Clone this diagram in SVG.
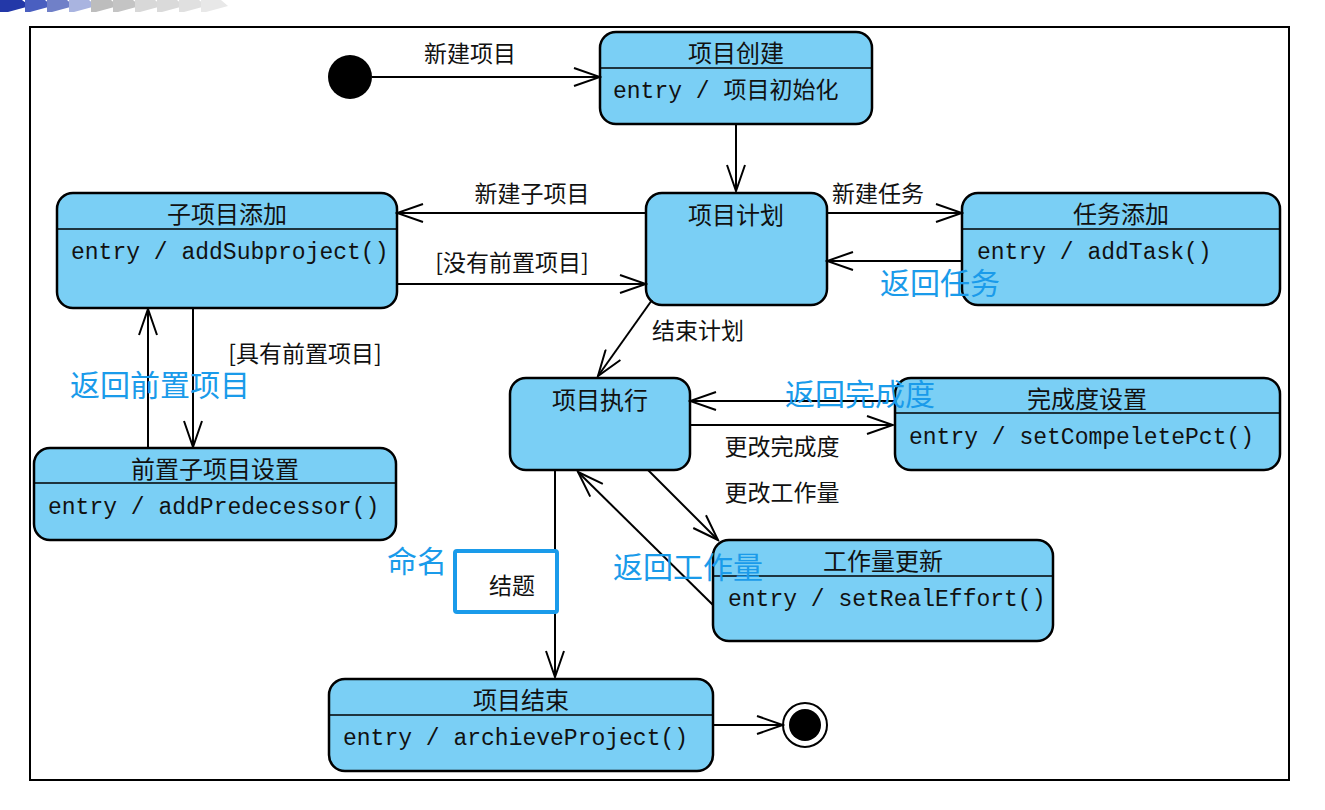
<svg xmlns="http://www.w3.org/2000/svg" width="1325" height="810" viewBox="0 0 1325 810">
<style>
.n{fill:#7ACFF5;stroke:#000;stroke-width:2.5}
.d{stroke:#000;stroke-width:1.5}
.t{font-family:"Noto Sans CJK SC",sans-serif;font-size:24px;fill:#111;text-anchor:middle}
.e{font-family:"Liberation Mono","Noto Sans CJK SC",monospace;font-size:23px;fill:#111}
.l{font-family:"Noto Sans CJK SC",sans-serif;font-size:23px;fill:#111;text-anchor:middle}
.b{font-family:"Noto Sans CJK SC",sans-serif;font-size:30px;fill:#1A9BEA;text-anchor:middle}
.c line{stroke:#000;stroke-width:2;marker-end:url(#a)}
</style>
<defs><marker id="a" markerWidth="30" markerHeight="20" refX="28" refY="10" orient="auto" markerUnits="userSpaceOnUse"><path d="M2,1 L28,10 L2,19" fill="none" stroke="#000" stroke-width="2"/></marker></defs>
<rect width="1325" height="810" fill="#fff"/>
<g>
<polygon points="0,0 22,0 30,6 8,12 0,12" fill="#2338A8"/>
<polygon points="25,0 45,0 52,6 30,12 25,12" fill="#4A5FC0"/>
<polygon points="47,0 67,0 74,6 52,12 47,12" fill="#7080C8"/>
<polygon points="69,0 89,0 96,6 74,12 69,12" fill="#A9B4E0"/>
<polygon points="91,0 111,0 118,6 96,12 91,12" fill="#BDBDBD"/>
<polygon points="113,0 133,0 140,6 118,12 113,12" fill="#C4C4C4"/>
<polygon points="135,0 155,0 162,6 140,12 135,12" fill="#D8D8D8"/>
<polygon points="157,0 177,0 184,6 162,12 157,12" fill="#DADADA"/>
<polygon points="179,0 199,0 206,6 184,12 179,12" fill="#E0E0E0"/>
<polygon points="201,0 221,0 228,6 206,12 201,12" fill="#E8E8E8"/>
</g>
<rect x="30" y="27" width="1259" height="753" fill="none" stroke="#000" stroke-width="2"/>
<g id="init"><circle cx="350" cy="77" r="22" fill="#000"/></g>
<g id="create"><rect class="n" x="600" y="32" width="272" height="92" rx="16"/><line class="d" x1="600" y1="68" x2="872" y2="68"/><text class="t" x="736" y="62">项目创建</text><text class="e" x="613" y="98">entry / 项目初始化</text></g>
<g id="plan"><rect class="n" x="646" y="193" width="181" height="112" rx="16"/><text class="t" x="736" y="224">项目计划</text></g>
<g id="task"><rect class="n" x="962" y="193" width="318" height="112" rx="16"/><line class="d" x1="962" y1="229" x2="1280" y2="229"/><text class="t" x="1121" y="223">任务添加</text><text class="e" x="977" y="259">entry / addTask()</text></g>
<g id="sub"><rect class="n" x="57" y="193" width="340" height="115" rx="16"/><line class="d" x1="57" y1="229" x2="397" y2="229"/><text class="t" x="227" y="223">子项目添加</text><text class="e" x="71" y="259">entry / addSubproject()</text></g>
<g id="pre"><rect class="n" x="34" y="448" width="362" height="92" rx="16"/><line class="d" x1="34" y1="483" x2="396" y2="483"/><text class="t" x="215" y="478">前置子项目设置</text><text class="e" x="48" y="514">entry / addPredecessor()</text></g>
<g id="exec"><rect class="n" x="510" y="378" width="180" height="92" rx="16"/><text class="t" x="600" y="409">项目执行</text></g>
<g id="pct"><rect class="n" x="895" y="378" width="385" height="92" rx="16"/><line class="d" x1="895" y1="413" x2="1280" y2="413"/><text class="t" x="1087" y="408">完成度设置</text><text class="e" x="909" y="444">entry / setCompeletePct()</text></g>
<g id="effort"><rect class="n" x="713" y="540" width="340" height="101" rx="16"/><line class="d" x1="713" y1="576" x2="1053" y2="576"/><text class="t" x="883" y="570">工作量更新</text><text class="e" x="728" y="606">entry / setRealEffort()</text></g>
<g id="end"><rect class="n" x="329" y="679" width="384" height="92" rx="16"/><line class="d" x1="329" y1="715" x2="713" y2="715"/><text class="t" x="521" y="709">项目结束</text><text class="e" x="343" y="745">entry / archieveProject()</text></g>
<g id="final"><circle cx="805" cy="725" r="22" fill="#fff" stroke="#000" stroke-width="2"/><circle cx="805" cy="725" r="16" fill="#000"/></g>
<g class="c">
<line x1="372" y1="77" x2="600" y2="77"/>
<line x1="736" y1="124" x2="736" y2="191"/>
<line x1="646" y1="213" x2="397" y2="213"/>
<line x1="397" y1="284" x2="646" y2="284"/>
<line x1="827" y1="213" x2="962" y2="213"/>
<line x1="962" y1="261" x2="827" y2="261"/>
<line x1="652" y1="300" x2="598" y2="376"/>
<line x1="193" y1="308" x2="193" y2="447"/>
<line x1="148" y1="447" x2="148" y2="309"/>
<line x1="895" y1="401" x2="690" y2="401"/>
<line x1="690" y1="425" x2="893" y2="425"/>
<line x1="648" y1="470" x2="718" y2="540"/>
<line x1="713" y1="605" x2="578" y2="472"/>
<line x1="555" y1="470" x2="555" y2="677"/>
<line x1="713" y1="725" x2="783" y2="725"/>
</g>
<g>
<text class="l" x="470" y="62">新建项目</text>
<text class="l" x="532" y="202">新建子项目</text>
<text class="l" x="512" y="271">[没有前置项目]</text>
<text class="l" x="878" y="202">新建任务</text>
<text class="l" x="698" y="339">结束计划</text>
<text class="l" x="305" y="362">[具有前置项目]</text>
<text class="l" x="782" y="455">更改完成度</text>
<text class="l" x="782" y="501">更改工作量</text>
<rect x="455" y="551" width="102" height="61" fill="#fff" stroke="#1A9BEA" stroke-width="4" rx="2"/>
<text class="l" x="512" y="594">结题</text>
<text class="b" x="940" y="294">返回任务</text>
<text class="b" x="160" y="396">返回前置项目</text>
<text class="b" x="860" y="405">返回完成度</text>
<text class="b" x="688" y="578">返回工作量</text>
<text class="b" x="417" y="572">命名</text>
</g>
</svg>
